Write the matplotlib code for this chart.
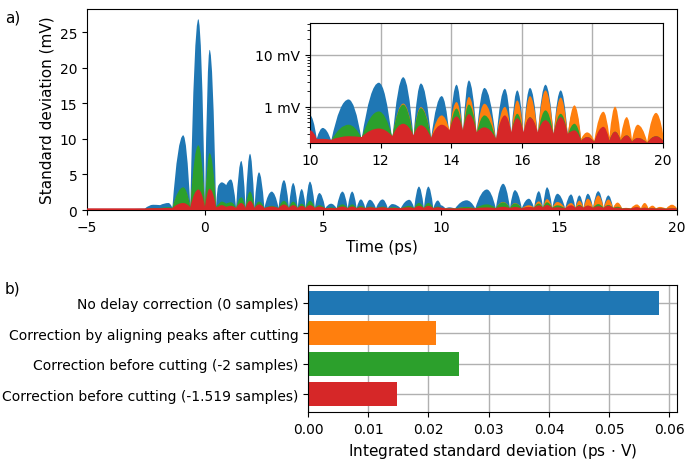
import matplotlib
matplotlib.use("Agg")
import matplotlib.pyplot as plt
from matplotlib.path import Path
from matplotlib.patches import PathPatch

# time points (ps): troughs and lobe maxima
t_pts = [-5.00, -3.00, -2.55, -2.20, -1.90, -1.55, -1.38, -0.92, -0.62, -0.28,
         0.00, 0.20, 0.47, 0.58, 0.71, 0.90, 1.10, 1.32, 1.54, 1.72,
         1.91, 2.10, 2.29, 2.52, 2.83, 3.12, 3.35, 3.56, 3.74, 3.93,
         4.10, 4.27, 4.45, 4.66, 4.85, 5.10, 5.35, 5.58, 5.83, 6.05,
         6.24, 6.43, 6.61, 6.80, 6.99, 7.25, 7.53, 7.75, 7.94, 8.30,
         8.66, 8.87, 9.07, 9.28, 9.47, 9.68, 9.87, 10.00, 10.19, 10.36,
         10.60, 11.09, 11.46, 11.95, 12.33, 12.64, 12.93, 13.14, 13.43, 13.73,
         13.95, 14.15, 14.33, 14.50, 14.72, 14.94, 15.27, 15.52, 15.70, 15.87,
         16.05, 16.23, 16.45, 16.67, 16.90, 17.10, 17.30, 17.49, 17.68, 17.85,
         18.05, 18.31, 18.48, 18.64, 18.80, 18.97, 19.12, 19.28, 19.55, 19.80,
         20.00]

# standard deviation (mV)
std_none = [0.18, 0.18, 0.20, 0.75, 0.70, 1.00, 0.30, 10.5, 0.40, 26.8,
            0.40, 22.5, 0.50, 3.50, 3.90, 3.50, 4.30, 0.30, 6.90, 0.30,
            7.90, 0.30, 5.30, 0.30, 2.60, 0.30, 4.20, 0.30, 3.80, 0.30,
            2.95, 0.30, 4.00, 0.30, 2.40, 0.25, 0.90, 0.25, 2.60, 0.25,
            2.60, 0.25, 1.50, 0.25, 1.45, 0.25, 1.50, 0.25, 0.85, 0.25,
            1.45, 0.25, 3.30, 0.25, 3.30, 0.25, 1.35, 0.68, 0.24, 0.39,
            0.22, 1.38, 0.23, 2.90, 0.22, 3.70, 0.25, 2.80, 0.24, 1.60,
            0.28, 2.65, 0.28, 3.20, 0.28, 2.30, 0.22, 2.20, 0.28, 2.06,
            0.28, 2.30, 0.28, 2.65, 0.28, 2.06, 0.28, 0.90, 0.22, 0.25,
            0.21, 0.28, 0.21, 0.26, 0.21, 0.24, 0.21, 0.22, 0.20, 0.24,
            0.22]
std_peaks = [0.12, 0.12, 0.12, 0.20, 0.20, 0.25, 0.25, 3.00, 0.35, 8.00,
             0.35, 7.00, 0.40, 0.70, 1.00, 0.80, 0.90, 0.25, 1.50, 0.25,
             2.20, 0.25, 1.00, 0.25, 0.50, 0.25, 1.10, 0.25, 1.00, 0.25,
             0.80, 0.25, 1.10, 0.25, 0.60, 0.24, 0.30, 0.24, 0.70, 0.24,
             0.70, 0.24, 0.50, 0.24, 0.45, 0.24, 0.45, 0.24, 0.35, 0.24,
             0.50, 0.24, 0.90, 0.24, 0.90, 0.24, 0.40, 0.28, 0.22, 0.23,
             0.22, 0.40, 0.24, 0.70, 0.25, 1.15, 0.25, 0.98, 0.24, 0.68,
             0.35, 1.23, 0.30, 1.54, 0.30, 1.14, 0.22, 0.99, 0.28, 1.32,
             0.28, 1.60, 0.28, 2.06, 0.28, 1.50, 0.28, 1.06, 0.24, 0.32,
             0.22, 0.80, 0.26, 1.00, 0.25, 0.63, 0.23, 0.45, 0.21, 0.76,
             0.30]
std_m2 = [0.15, 0.15, 0.15, 0.30, 0.30, 0.40, 0.30, 3.20, 0.40, 9.10,
          0.40, 8.00, 0.45, 0.80, 1.20, 0.90, 1.10, 0.25, 1.80, 0.25,
          2.60, 0.25, 1.20, 0.25, 0.60, 0.25, 1.30, 0.25, 1.20, 0.25,
          0.90, 0.25, 1.30, 0.25, 0.70, 0.24, 0.40, 0.24, 0.80, 0.24,
          0.80, 0.24, 0.60, 0.24, 0.50, 0.24, 0.50, 0.24, 0.40, 0.24,
          0.60, 0.24, 1.00, 0.24, 1.00, 0.24, 0.50, 0.32, 0.23, 0.24,
          0.22, 0.45, 0.25, 0.81, 0.26, 1.10, 0.25, 0.94, 0.24, 0.42,
          0.30, 0.92, 0.30, 1.10, 0.30, 0.68, 0.22, 0.52, 0.28, 0.73,
          0.28, 0.63, 0.28, 0.85, 0.28, 0.73, 0.28, 0.47, 0.22, 0.26,
          0.21, 0.35, 0.22, 0.33, 0.22, 0.28, 0.21, 0.25, 0.20, 0.27,
          0.22]
std_m1519 = [0.25, 0.25, 0.25, 0.28, 0.28, 0.30, 0.28, 1.00, 0.40, 2.90,
             0.45, 3.00, 0.40, 0.50, 0.70, 0.45, 0.60, 0.28, 1.00, 0.28,
             1.30, 0.28, 0.80, 0.28, 0.50, 0.28, 0.80, 0.28, 0.70, 0.28,
             0.60, 0.28, 0.70, 0.28, 0.50, 0.27, 0.30, 0.27, 0.50, 0.27,
             0.50, 0.27, 0.40, 0.27, 0.40, 0.27, 0.40, 0.27, 0.30, 0.27,
             0.40, 0.27, 0.60, 0.27, 0.60, 0.27, 0.40, 0.35, 0.24, 0.24,
             0.23, 0.27, 0.26, 0.38, 0.27, 0.47, 0.28, 0.44, 0.25, 0.45,
             0.35, 0.65, 0.35, 0.72, 0.32, 0.40, 0.24, 0.68, 0.32, 0.60,
             0.32, 0.62, 0.32, 0.55, 0.30, 0.63, 0.30, 0.35, 0.22, 0.26,
             0.21, 0.41, 0.22, 0.33, 0.22, 0.28, 0.21, 0.25, 0.20, 0.27,
             0.22]

series = [std_none, std_peaks, std_m2, std_m1519]
colors = ["#1f77b4", "#ff7f0e", "#2ca02c", "#d62728"]

labels = ["No delay correction (0 samples)",
          "Correction by aligning peaks after cutting",
          "Correction before cutting (-2 samples)",
          "Correction before cutting (-1.519 samples)"]
integrated = [0.0583, 0.0213, 0.0250, 0.0148]


def lobes(t, v, floor, color, z):
    # rounded lobes: each segment is a parabola with its vertex at the higher end
    verts = [(t[0], floor), (t[0], v[0])]
    codes = [Path.MOVETO, Path.LINETO]
    for i in range(1, len(t)):
        verts.append(((t[i - 1] + t[i]) / 2, max(v[i - 1], v[i])))
        verts.append((t[i], v[i]))
        codes += [Path.CURVE3, Path.CURVE3]
    verts += [(t[-1], floor), (t[0], floor)]
    codes += [Path.LINETO, Path.CLOSEPOLY]
    return PathPatch(Path(verts, codes), facecolor=color, edgecolor="none",
                     lw=0, zorder=z)


fig = plt.figure(figsize=(6.85, 4.64), dpi=100)

ax = fig.add_axes([0.127, 0.545, 0.861, 0.433])
for i, (v, c) in enumerate(zip(series, colors)):
    ax.add_patch(lobes(t_pts, v, 0, c, 2 + i))
ax.set_xlim(-5, 20)
ax.set_ylim(0, 28.2)
ax.set_xticks([-5, 0, 5, 10, 15, 20])
ax.set_yticks([0, 5, 10, 15, 20, 25])
ax.set_xlabel("Time (ps)", fontsize=11)
ax.set_ylabel("Standard deviation (mV)", fontsize=11)

# inset, log scale
axi = fig.add_axes([0.4526, 0.6897, 0.5154, 0.2586])
for i, (v, c) in enumerate(zip(series, colors)):
    axi.add_patch(lobes(t_pts, v, 0.01, c, 2 + i))
axi.set_yscale("log")
axi.set_xlim(10, 20)
axi.set_ylim(0.2, 41)
axi.set_xticks([10, 12, 14, 16, 18, 20])
axi.set_yticks([1, 10])
axi.set_yticklabels(["1 mV", "10 mV"])
axi.grid(True, color="#b0b0b0", lw=1)
axi.set_axisbelow(True)

# bar chart
axb = fig.add_axes([0.4496, 0.110, 0.5384, 0.2736])
axb.barh(range(len(labels)), integrated, color=colors, height=0.8)
axb.set_yticks(range(len(labels)))
axb.set_yticklabels(labels)
axb.invert_yaxis()
axb.set_xticks([0.0, 0.01, 0.02, 0.03, 0.04, 0.05, 0.06])
axb.grid(True, color="#b0b0b0", lw=1)
axb.set_axisbelow(True)
axb.set_xlabel("Integrated standard deviation (ps$\\,\\cdot\\,$V)", fontsize=11)

fig.text(0.007, 0.978, "a)", fontsize=11, va="top")
fig.text(0.007, 0.394, "b)", fontsize=11, va="top")

fig.savefig("out.png", dpi=100)
